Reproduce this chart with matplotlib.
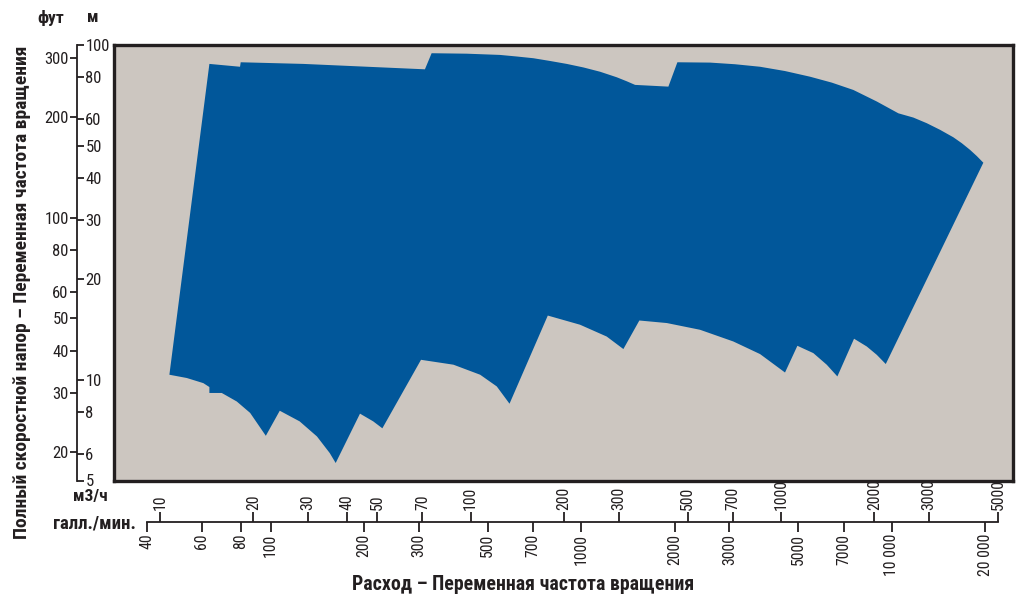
import os
import matplotlib
matplotlib.use('Agg')
import matplotlib.pyplot as plt
from matplotlib import font_manager
from matplotlib.font_manager import FontProperties
from matplotlib.ticker import NullLocator

# ---------------- data ----------------
# upper boundary of the pump coverage envelope (flow in US gpm, head in m)
upper_gpm = [47.2, 63.5, 79.7, 80.1, 127.5, 314, 330, 428, 484, 548, 620, 702, 794, 899,
             1017, 1151, 1302, 1403, 1492, 1910, 2042, 2602, 3131, 3770, 4536, 5463,
             6417, 7530, 8957, 10515, 11752, 12977, 14320, 15808, 16823, 17893,
             18800, 19743]
upper_m = [10.35, 87.8, 86.1, 88.8, 87.8, 84.6, 94.5, 94.2, 93.8, 93.4, 92.4, 91.3, 89.6, 87.8,
           85.7, 83.2, 80.1, 77.9, 76.0, 75.1, 88.8, 88.6, 87.6, 86.1, 83.6, 80.4,
           77.2, 73.4, 67.8, 62.5, 60.7, 58.4, 55.8, 53.0, 50.9, 48.6,
           46.6, 44.5]
# lower boundary, from right to left
lower_gpm = [9575, 8957, 8317, 7568, 6688, 6180, 5596, 4972, 4536, 3770,
             3092, 2416, 1888, 1540, 1368, 1209, 992, 781, 588, 535,
             473, 388, 305, 229, 214, 194, 162, 155, 141, 124,
             107, 96.5, 85.9, 77.8, 69.6, 63.5, 63.5, 60.7, 53.7]
lower_m = [11.14, 11.87, 12.57, 13.26, 10.23, 11.09, 12.01, 12.63, 10.51, 11.93,
           13.01, 14.10, 14.77, 15.03, 12.35, 13.46, 14.60, 15.55, 8.48, 9.55,
           10.35, 11.09, 11.47, 7.16, 7.51, 7.92, 5.64, 6.04, 6.77, 7.51,
           8.08, 6.80, 7.96, 8.61, 9.13, 9.13, 9.51, 9.77, 10.12]

m_ticks = [5, 6, 8, 10, 20, 30, 40, 50, 60, 80, 100]
m_labels = ['5', '6', '8', '10', '20', '30', '40', '50', '60', '80', '100']
ft_ticks = [20, 30, 40, 50, 60, 80, 100, 200, 300]
ft_labels = ['20', '30', '40', '50', '60', '80', '100', '200', '300']
gpm_ticks = [40, 60, 80, 100, 200, 300, 500, 700, 1000, 2000, 3000, 5000, 7000, 10000, 20000]
gpm_labels = ['40', '60', '80', '100', '200', '300', '500', '700', '1000', '2000', '3000',
              '5000', '7000', '10 000', '20 000']
m3h_ticks = [10, 20, 30, 40, 50, 70, 100, 200, 300, 500, 700, 1000, 2000, 3000, 5000]
m3h_labels = [str(v) for v in m3h_ticks]

GPM_PER_M3H = 4.40287
FT_PER_M = 3.28084


# ---------------- fonts (prefer a condensed sans) ----------------
def _weight(w):
    if isinstance(w, str):
        return font_manager.weight_dict.get(w, 400)
    return int(w)


def pick_font(target):
    order = ['liberationsansnarrow', 'robotocondensed', 'dejavusanscondensed',
             'notosans-condensed', 'notosanscondensed', 'opensans_condensed',
             'opensanscondensed', 'semicondensed', 'condensed', 'narrow']
    best, best_score = None, None
    for f in font_manager.fontManager.ttflist:
        fn = os.path.basename(f.fname).lower().replace(' ', '')
        nm = f.name.lower().replace(' ', '')
        key = nm + '|' + fn
        if 'italic' in fn or 'oblique' in fn or f.style != 'normal':
            continue
        if 'extracondensed' in key or 'ultracondensed' in key:
            continue
        rank = None
        for i, k in enumerate(order):
            if k in key:
                rank = i
                break
        if rank is None:
            st = str(f.stretch)
            if st in ('condensed', 'semi-condensed'):
                rank = len(order)
            else:
                continue
        w = _weight(f.weight)
        if 'black' in fn or 'heavy' in fn:
            w = 900
        elif 'extrabold' in fn:
            w = 800
        elif 'semibold' in fn:
            w = 600
        elif 'bold' in fn:
            w = 700
        score = (rank, abs(w - target))
        if best_score is None or score < best_score:
            best, best_score = f.fname, score
    if best is not None:
        return FontProperties(fname=best)
    fam = 'Roboto' if any(f.name == 'Roboto' for f in font_manager.fontManager.ttflist) else 'DejaVu Sans'
    return FontProperties(family=fam, weight='bold' if target >= 600 else 'normal')


FP_REG = pick_font(400)
FP_BOLD = pick_font(880)


def fp(base, size):
    p = base.copy()
    p.set_size(size)
    return p


BG = '#CCC6C0'
BLUE = '#01579A'
DARK = '#231F20'

W, H = 1027, 600
fig = plt.figure(figsize=(W / 100, H / 100), dpi=100)


def fx(px):
    return px / W


def fy(py):
    return 1 - py / H


L, R, T, B = 114, 1013, 45, 480.5
XMIN, XMAX = 31.3, 24600
YMIN, YMAX = 5, 100
YTICK_FP = fp(FP_REG, 12)
XTICK_FP = fp(FP_REG, 11.3)

# ---------------- main plot ----------------
ax = fig.add_axes([fx(L), fy(B), fx(R - L), (B - T) / H])
ax.set_xscale('log')
ax.set_yscale('log')
ax.set_xlim(XMIN, XMAX)
ax.set_ylim(YMIN, YMAX)
ax.set_facecolor(BG)
ax.fill(upper_gpm + lower_gpm, upper_m + lower_m, color=BLUE, lw=0)
for a in (ax.xaxis, ax.yaxis):
    a.set_major_locator(NullLocator())
    a.set_minor_locator(NullLocator())
for s in ax.spines.values():
    s.set_linewidth(2.4)
    s.set_color(DARK)

# ---------------- vertical scales ----------------
AXX = 77
ay_m = fig.add_axes([fx(AXX), fy(B), 0.00001, (B - T) / H])
ay_m.set_yscale('log')
ay_m.set_ylim(YMIN, YMAX)
ay_m.patch.set_visible(False)
for k in ('top', 'bottom', 'right'):
    ay_m.spines[k].set_visible(False)
ay_m.spines['left'].set_linewidth(1.3)
ay_m.spines['left'].set_color(DARK)
ay_m.xaxis.set_visible(False)
ay_m.yaxis.tick_right()
ay_m.set_yticks(m_ticks, m_labels, fontproperties=YTICK_FP)
ay_m.yaxis.set_minor_locator(NullLocator())
ay_m.tick_params(axis='y', direction='out', length=5, width=1.3, pad=1, colors=DARK)

ay_f = fig.add_axes([fx(AXX), fy(B), 0.00001, (B - T) / H])
ay_f.set_yscale('log')
ay_f.set_ylim(YMIN * FT_PER_M, YMAX * FT_PER_M)
ay_f.patch.set_visible(False)
for s in ay_f.spines.values():
    s.set_visible(False)
ay_f.xaxis.set_visible(False)
ay_f.yaxis.tick_left()
ay_f.set_yticks(ft_ticks, ft_labels, fontproperties=YTICK_FP)
ay_f.yaxis.set_minor_locator(NullLocator())
ay_f.tick_params(axis='y', direction='out', length=5, width=1.3, pad=1, colors=DARK)

# ---------------- horizontal scales ----------------
AXY = 522
ax_g = fig.add_axes([fx(L), fy(AXY), fx(R - L), 0.00001])
ax_g.set_xscale('log')
ax_g.set_xlim(XMIN, XMAX)
ax_g.patch.set_visible(False)
for k in ('top', 'left', 'right'):
    ax_g.spines[k].set_visible(False)
ax_g.spines['bottom'].set_bounds(40, 5000 * GPM_PER_M3H)
ax_g.spines['bottom'].set_linewidth(1.3)
ax_g.spines['bottom'].set_color(DARK)
ax_g.yaxis.set_visible(False)
ax_g.set_xticks(gpm_ticks, gpm_labels, fontproperties=XTICK_FP, rotation=90)
ax_g.xaxis.set_minor_locator(NullLocator())
ax_g.tick_params(axis='x', direction='out', length=7, width=1.3, pad=1.5, colors=DARK)

ax_h = fig.add_axes([fx(L), fy(AXY), fx(R - L), 0.00001])
ax_h.set_xscale('log')
ax_h.set_xlim(XMIN / GPM_PER_M3H, XMAX / GPM_PER_M3H)
ax_h.patch.set_visible(False)
for s in ax_h.spines.values():
    s.set_visible(False)
ax_h.yaxis.set_visible(False)
ax_h.xaxis.tick_top()
ax_h.set_xticks(m3h_ticks, m3h_labels, fontproperties=XTICK_FP, rotation=90)
ax_h.xaxis.set_minor_locator(NullLocator())
ax_h.tick_params(axis='x', direction='out', length=7, width=1.3, pad=1.5, colors=DARK)

# ---------------- texts ----------------
fig.text(fx(22), fy(292), 'Полный скоростной напор – Переменная частота вращения',
         rotation=90, ha='center', va='center', color=DARK, fontproperties=fp(FP_BOLD, 14))
fig.text(fx(523), fy(585), 'Расход – Переменная частота вращения',
         ha='center', va='center', color=DARK, fontproperties=fp(FP_BOLD, 14.3))
fig.text(fx(51), fy(18), 'фут', ha='center', va='center', color=DARK,
         fontproperties=fp(FP_BOLD, 12.5))
fig.text(fx(93), fy(18), 'м', ha='center', va='center', color=DARK,
         fontproperties=fp(FP_BOLD, 12.5))
fig.text(fx(108), fy(497), 'м3/ч', ha='right', va='center', color=DARK,
         fontproperties=fp(FP_BOLD, 12.5))
fig.text(fx(136), fy(523), 'галл./мин.', ha='right', va='center', color=DARK,
         fontproperties=fp(FP_BOLD, 13.5))

fig.savefig('out.png', dpi=100, facecolor='white')
